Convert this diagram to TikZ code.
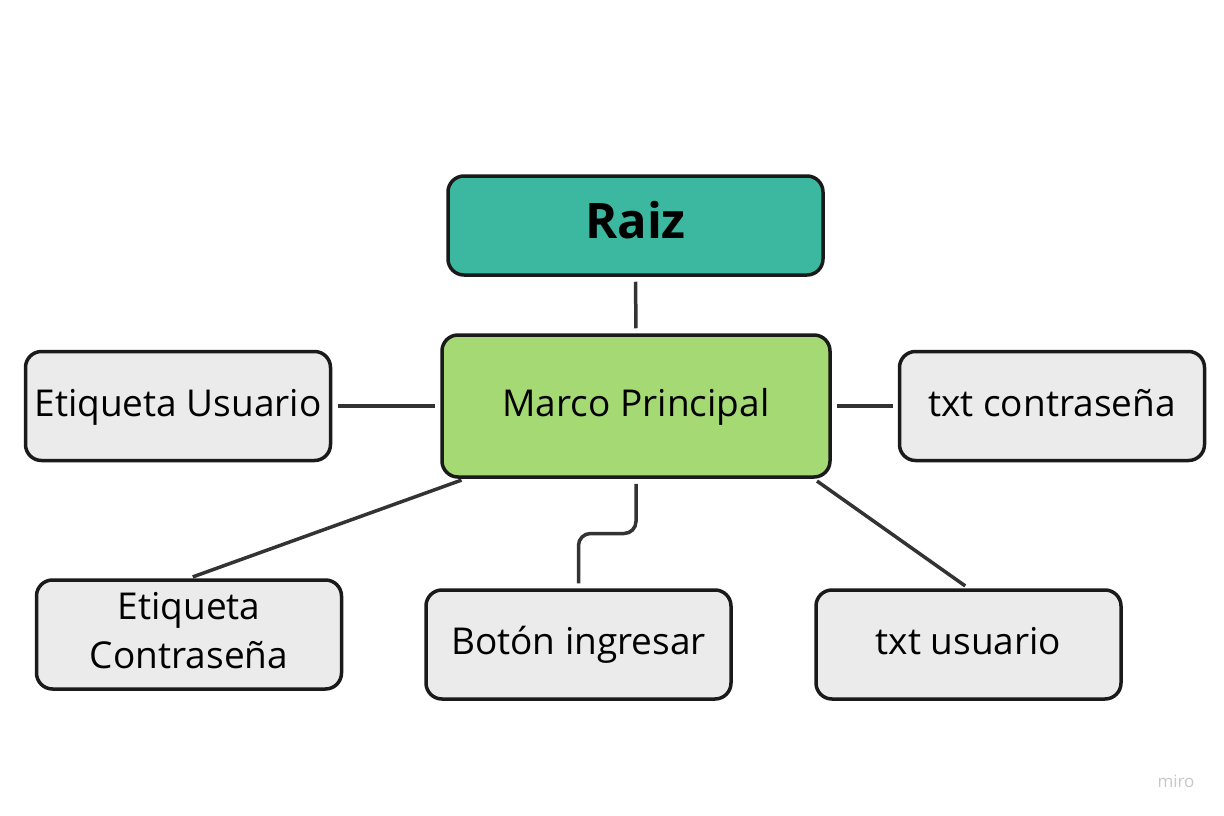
\documentclass[tikz,border=0pt]{standalone}
\usepackage{fontspec}
\setmainfont{Open Sans}
\usetikzlibrary{calc}
\definecolor{raizfill}{HTML}{3DB8A0}
\definecolor{marcofill}{HTML}{A5D974}
\definecolor{leaffill}{HTML}{EBEBEB}
\definecolor{edgecol}{HTML}{1A1A1A}
\definecolor{linkcol}{HTML}{333333}
\definecolor{mirocol}{HTML}{C8C8CC}
\tikzset{
  box/.style={draw=edgecol, line width=3.5pt, rounded corners=16pt, inner sep=0pt, align=center,
    font=\fontsize{37}{49}\selectfont, text=black, text height=28pt, text depth=8pt},
  leaf/.style={box, fill=leaffill, minimum width=305pt, minimum height=109pt},
  link/.style={draw=linkcol, line width=3.5pt},
}
\begin{document}
\begin{tikzpicture}[x=1pt,y=-1pt]
\useasboundingbox (0,0) rectangle (1224,816);
\fill[white] (0,0) rectangle (1224,816);
\node[box, fill=raizfill, minimum width=375pt, minimum height=99pt, font=\fontsize{49}{55}\selectfont\bfseries, text height=35pt, text depth=10pt] (raiz) at (635.5,225.5) {Raiz};
\node[box, fill=marcofill, minimum width=388pt, minimum height=142pt] (marco) at (636,406) {Marco Principal};
\node[leaf] (eu) at (178,406) {Etiqueta Usuario};
\node[leaf] (tc) at (1052,406) {txt contraseña};
\node[leaf, text height=, text depth=9pt] (ec) at (189,634.5) {Etiqueta\\Contraseña};
\node[leaf] (bi) at (578.5,644.5) {Botón ingresar};
\node[leaf] (tu) at (968.5,644.5) {txt usuario};
\node[font=\fontsize{17}{19}\selectfont, text=mirocol] (miro) at (1176,781) {miro};
\draw[link, shorten <=5pt, shorten >=5pt] (raiz.south) -- (marco.north);
\draw[link, shorten <=6pt, shorten >=5pt] (eu.east) -- (marco.west);
\draw[link, shorten <=5pt, shorten >=5pt] (marco.east) -- (tc.west);
\draw[link, shorten <=4pt, shorten >=4pt] ([xshift=25pt]marco.south west) -- (ec.north);
\draw[link, shorten <=4pt, shorten >=4pt] ([xshift=-18pt]marco.south east) -- (tu.north);
\draw[link, rounded corners=12pt, shorten <=5pt, shorten >=5pt] (marco.south) |- ($(marco.south)!0.5!(bi.north)$) -| (bi.north);
\end{tikzpicture}
\end{document}
